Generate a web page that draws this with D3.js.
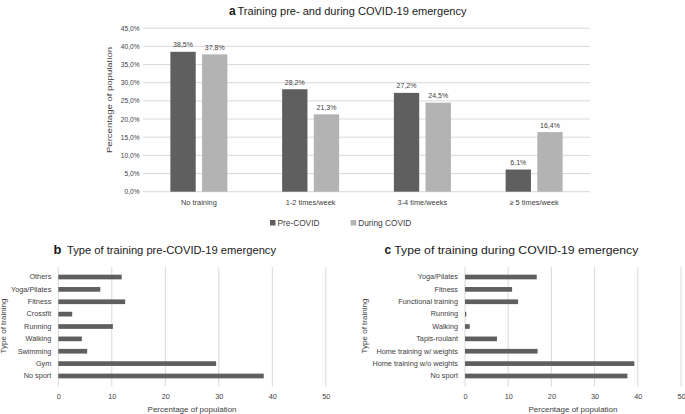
<!DOCTYPE html>
<html>
<head>
<meta charset="utf-8">
<script src="https://cdn.jsdelivr.net/npm/d3@7"></script>
<style>
  body { margin: 0; background: #fff; }
  svg { font-family: "Liberation Sans", Arial, sans-serif; }
  .grid line { stroke: #d9d9d9; stroke-width: 1; }
  .tick text, .lbl { fill: #404040; }
  .ttl { fill: #1a1a1a; }
</style>
</head>
<body>
<script>
// panel a
var freqCats = ['No training', '1-2 times/week', '3-4 time/weeks', '\u2265 5 times/week'],
    preCovid = [38.5, 28.2, 27.2, 6.1],
    duringCovid = [37.8, 21.3, 24.5, 16.4],
    seriesNames = ['Pre-COVID', 'During COVID'],
    pctTicks = [0, 5, 10, 15, 20, 25, 30, 35, 40, 45]

// panel b
var preTypes = ['Others', 'Yoga/Pilates', 'Fitness', 'Crossfit', 'Running', 'Walking', 'Swimming', 'Gym', 'No sport'],
    preValues = [11.85, 7.85, 12.5, 2.6, 10.2, 4.4, 5.4, 29.5, 38.4]

// panel c
var duringTypes = ['Yoga/Pilates', 'Fitness', 'Functional training', 'Running', 'Walking', 'Tapis-roulant', 'Home training w/ weights', 'Home training w/o weights', 'No sport'],
    duringValues = [16.6, 10.9, 12.3, 0.3, 1.1, 7.4, 16.8, 39.2, 37.6],
    typeTicks = [0, 10, 20, 30, 40, 50]

var colors = ['#5f5f5f', '#b3b3b3'],
    fmt = function (v) { return d3.format('.1f')(v).replace('.', ',') + '%' }

var svg = d3.select('body').append('svg').attr('width', 685).attr('height', 414)

drawTitle('a', 'Training pre- and during COVID-19 emergency', 229, 237.5, 229, 15, 12)
drawTitle('b', 'Type of training pre-COVID-19 emergency', 53.5, 67, 209, 254, 13)
drawTitle('c', 'Type of training during COVID-19 emergency', 384.5, 394.3, 244, 254, 12)

drawGrouped()
drawHorizontal(preTypes, preValues, { x0: 58.3, x1: 325.8, labelX: 5.5 })
drawHorizontal(duringTypes, duringValues, { x0: 465, x1: 681, labelX: 367 })

// squeeze a text element to the width it has in the picture
function fit(sel, width) {
    sel.attr('textLength', width).attr('lengthAdjust', 'spacingAndGlyphs')
}

function drawTitle(letter, text, lx, tx, width, y, size) {
    svg.append('text').attr('class', 'ttl').attr('x', lx).attr('y', y)
        .style('font-size', size + 'px').style('font-weight', 'bold').text(letter)
    svg.append('text').attr('class', 'ttl').attr('x', tx).attr('y', y)
        .style('font-size', '11.5px').text(text).call(fit, width)
}

function drawGrouped() {
    var x = d3.scaleBand().domain(freqCats).range([143, 590]).paddingInner(0.49).paddingOuter(0.245),
        sub = d3.scaleBand().domain([0, 1]).range([0, x.bandwidth()]).paddingInner(0.2),
        y = d3.scaleLinear().domain([0, 45]).range([191.7, 28.2]),
        g = svg.append('g')

    g.append('g').attr('class', 'grid').selectAll('line').data(pctTicks).join('line')
        .attr('x1', 143).attr('x2', 590).attr('y1', function (d) { return y(d) }).attr('y2', function (d) { return y(d) })

    var yAxis = d3.axisLeft(y).tickValues(pctTicks).tickFormat(fmt).tickSize(0).tickPadding(3.5)
    g.append('g').attr('transform', 'translate(143,0)').call(yAxis)
        .call(function (a) { a.select('.domain').remove() })
        .selectAll('text').style('font-size', '6.6px')

    var xAxis = d3.axisBottom(x).tickSize(0).tickPadding(8)
    g.append('g').attr('transform', 'translate(0,191.7)').call(xAxis)
        .call(function (a) { a.select('.domain').remove() })
        .selectAll('text').style('font-size', '7.4px')

    var series = [preCovid, duringCovid]
    series.forEach(function (vals, s) {
        var bars = g.append('g')
        bars.selectAll('rect').data(vals).join('rect')
            .attr('x', function (d, i) { return x(freqCats[i]) + sub(s) })
            .attr('width', sub.bandwidth())
            .attr('y', function (d) { return y(d) })
            .attr('height', function (d) { return y(0) - y(d) })
            .attr('fill', colors[s])
        bars.selectAll('text').data(vals).join('text').attr('class', 'lbl')
            .attr('x', function (d, i) { return x(freqCats[i]) + sub(s) + sub.bandwidth() / 2 })
            .attr('y', function (d) { return y(d) - 4.5 })
            .attr('text-anchor', 'middle').style('font-size', '7px')
            .text(fmt)
    })

    g.append('text').attr('class', 'lbl').attr('transform', 'translate(111.5,100) rotate(-90)')
        .attr('text-anchor', 'middle').style('font-size', '8px').text('Percentage of population').call(fit, 106)

    var legendX = [270, 350.7]
    seriesNames.forEach(function (name, s) {
        g.append('rect').attr('x', legendX[s]).attr('y', 220).attr('width', 5.5).attr('height', 5.5).attr('fill', colors[s])
        g.append('text').attr('class', 'lbl').attr('x', legendX[s] + 7.5).attr('y', 225.8)
            .style('font-size', '8.3px').text(name)
    })
}

function drawHorizontal(cats, vals, o) {
    var x = d3.scaleLinear().domain([0, 50]).range([o.x0, o.x1]),
        y = d3.scaleBand().domain(cats).range([267, 386]).padding(0.62),
        g = svg.append('g')

    g.append('g').attr('class', 'grid').selectAll('line').data(typeTicks).join('line')
        .attr('x1', function (d) { return x(d) }).attr('x2', function (d) { return x(d) })
        .attr('y1', 267).attr('y2', 386.5)

    g.append('g').selectAll('rect').data(vals).join('rect')
        .attr('x', x(0))
        .attr('y', function (d, i) { return y(cats[i]) })
        .attr('height', y.bandwidth())
        .attr('width', function (d) { return x(d) - x(0) })
        .attr('fill', colors[0])

    var yAxis = d3.axisLeft(y).tickSize(0).tickPadding(7)
    g.append('g').attr('transform', 'translate(' + o.x0 + ',0)').call(yAxis)
        .call(function (a) { a.select('.domain').remove() })
        .selectAll('text').style('font-size', '7.3px')

    var xAxis = d3.axisBottom(x).tickValues(typeTicks).tickSize(0).tickPadding(8)
    g.append('g').attr('transform', 'translate(0,386)').call(xAxis)
        .call(function (a) { a.select('.domain').remove() })
        .selectAll('text').style('font-size', '7.3px')

    g.append('text').attr('class', 'lbl').attr('x', (o.x0 + o.x1) / 2).attr('y', 412)
        .attr('text-anchor', 'middle').style('font-size', '8px').text('Percentage of population').call(fit, 89)

    g.append('text').attr('class', 'lbl').attr('transform', 'translate(' + o.labelX + ',326) rotate(-90)')
        .attr('text-anchor', 'middle').style('font-size', '8px').text('Type of training').call(fit, 55)
}
</script>
</body>
</html>
